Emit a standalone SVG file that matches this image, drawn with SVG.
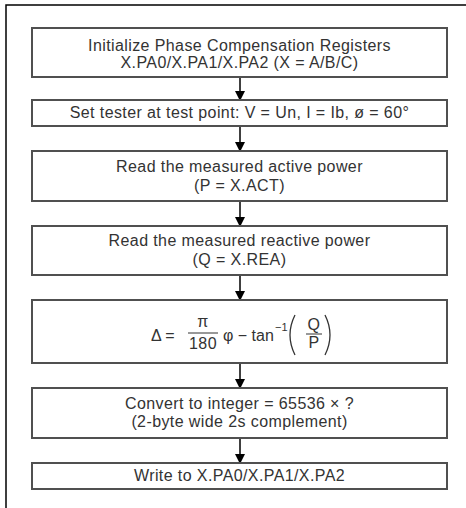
<svg xmlns="http://www.w3.org/2000/svg" width="466" height="508" viewBox="0 0 466 508">
<style>
.box{fill:#fff;stroke:#505050;stroke-width:2}
.t{font-family:"Liberation Sans",Arial,sans-serif;font-size:16px;letter-spacing:0.4px;fill:#333;text-anchor:middle}
.f{font-family:"Liberation Sans",Arial,sans-serif;font-size:16px;fill:#333}
.c{stroke:#000;stroke-width:1.5;fill:none}
</style>
<defs>
<marker id="ah" markerWidth="10" markerHeight="10" refX="9" refY="5" orient="auto" markerUnits="userSpaceOnUse">
<path d="M0,0 L10,5 L0,10 Z" fill="#000"/>
</marker>
</defs>
<rect x="0" y="0" width="466" height="508" fill="#fff"/>
<path d="M6,510 L6,5 L470,5" fill="none" stroke="#000" stroke-width="1.5"/>
<g id="connectors">
<line class="c" x1="240" y1="77" x2="240" y2="100" marker-end="url(#ah)"/>
<line class="c" x1="240" y1="126" x2="240" y2="151" marker-end="url(#ah)"/>
<line class="c" x1="240" y1="201" x2="240" y2="226" marker-end="url(#ah)"/>
<line class="c" x1="240" y1="275" x2="240" y2="300" marker-end="url(#ah)"/>
<line class="c" x1="240" y1="363" x2="240" y2="388" marker-end="url(#ah)"/>
<line class="c" x1="240" y1="438" x2="240" y2="463" marker-end="url(#ah)"/>
</g>
<g id="n1"><rect class="box" x="32" y="28" width="415" height="49"/>
<text class="t" x="239.5" y="51">Initialize Phase Compensation Registers</text>
<text class="t" x="239.5" y="68">X.PA0/X.PA1/X.PA2 (X = A/B/C)</text></g>
<g id="n2"><rect class="box" x="32" y="100" width="415" height="26"/>
<text class="t" x="239.5" y="118">Set tester at test point: V = Un, I = Ib, ø = 60°</text></g>
<g id="n3"><rect class="box" x="32" y="151" width="415" height="50"/>
<text class="t" x="239.5" y="172">Read the measured active power</text>
<text class="t" x="239.5" y="191">(P = X.ACT)</text></g>
<g id="n4"><rect class="box" x="32" y="226" width="415" height="49"/>
<text class="t" x="239.5" y="246">Read the measured reactive power</text>
<text class="t" x="239.5" y="265">(Q = X.REA)</text></g>
<g id="n5"><rect class="box" x="32" y="300" width="415" height="63"/>
<text class="f" x="151" y="341">Δ =</text>
<text class="t" x="203" y="327">π</text>
<line x1="188" y1="333" x2="218" y2="333" stroke="#333" stroke-width="1"/>
<text class="t" x="203" y="349">180</text>
<text class="f" x="223" y="341">φ − tan</text>
<text class="f" x="275" y="331" style="font-size:11px">−1</text>
<path d="M295,315 Q285,335 295,355" fill="none" stroke="#333" stroke-width="1.3"/>
<text class="t" x="314" y="330">Q</text>
<line x1="306" y1="334" x2="322" y2="334" stroke="#333" stroke-width="1"/>
<text class="t" x="314" y="348">P</text>
<path d="M325,315 Q335,335 325,355" fill="none" stroke="#333" stroke-width="1.3"/></g>
<g id="n6"><rect class="box" x="32" y="388" width="415" height="50"/>
<text class="t" x="239.5" y="409">Convert to integer = 65536 × ?</text>
<text class="t" x="239.5" y="427">(2-byte wide 2s complement)</text></g>
<g id="n7"><rect class="box" x="32" y="463" width="415" height="26"/>
<text class="t" x="239.5" y="481">Write to X.PA0/X.PA1/X.PA2</text></g>
</svg>
